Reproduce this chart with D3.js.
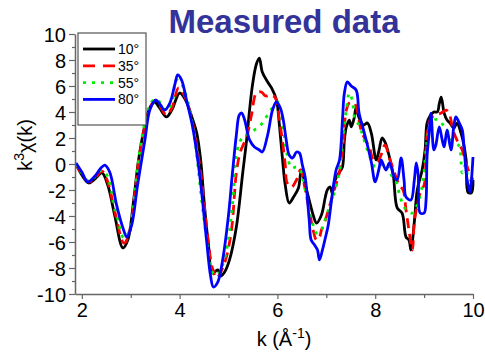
<!DOCTYPE html>
<html>
<head>
<meta charset="utf-8">
<script src="https://cdn.jsdelivr.net/npm/d3@7"></script>
<style>
  html, body { margin: 0; padding: 0; background: #fff; }
  svg { display: block; font-family: "Liberation Sans", Arial, sans-serif; }
</style>
</head>
<body>
<svg id="chart" width="485" height="356"></svg>
<script>
// EXAFS k^3-weighted chi(k) for four incidence angles: [k (1/Å), k^3 chi(k)]
const series10 = [[1.88,0],[2.00,-0.85],[2.14,-1.46],[2.27,-1.15],[2.41,-0.69],[2.53,-1.62],[2.67,-3.92],[2.84,-6.46],[2.94,-5.85],[3.06,-2.77],[3.16,0.31],[3.29,3.0],[3.39,4.31],[3.49,4.77],[3.59,4.31],[3.73,3.62],[3.84,4.15],[4.00,5.46],[4.12,4.92],[4.27,3.38],[4.35,2.38],[4.43,0.31],[4.51,-3.31],[4.59,-6.23],[4.67,-8.38],[4.78,-8.15],[4.84,-8.62],[4.92,-8.31],[5.02,-7.38],[5.16,-4.85],[5.29,-0.69],[5.37,1.85],[5.43,4.15],[5.49,6.08],[5.57,7.69],[5.63,8.15],[5.69,7.08],[5.80,6.31],[5.88,5.85],[5.98,4.92],[6.04,3.0],[6.10,0.54],[6.16,-1.62],[6.24,-3.0],[6.33,-2.54],[6.43,-1.85],[6.49,-0.46],[6.57,-1.62],[6.65,-2.77],[6.73,-3.92],[6.80,-4.54],[6.90,-3.92],[6.98,-2.54],[7.02,-2.0],[7.08,-1.77],[7.12,-2.23],[7.18,-1.23],[7.27,-0.62],[7.33,-0.23],[7.37,1.85],[7.41,2.85],[7.47,3.38],[7.51,2.85],[7.57,3.54],[7.61,4.38],[7.67,3.54],[7.76,3.0],[7.84,3.15],[7.92,2.38],[8.02,0.31],[8.08,1.08],[8.14,2.0],[8.20,1.69],[8.29,0.54],[8.37,-0.85],[8.45,-3.38],[8.55,-3.77],[8.63,-5.62],[8.69,-5.85],[8.73,-6.62],[8.80,-4.46],[8.86,-2.0],[8.96,-0.46],[9.02,1.08],[9.06,3.15],[9.12,3.69],[9.20,4.0],[9.27,4.0],[9.31,4.62],[9.35,5.15],[9.41,3.92],[9.47,3.38],[9.53,3.15],[9.61,2.77],[9.67,3.15],[9.76,2.31],[9.86,0.31],[9.90,-2.2],[9.97,-2.2],[10.0,-1.23]];

const series35 = [[1.88,0],[2.00,-0.77],[2.14,-1.38],[2.27,-1.08],[2.41,-0.54],[2.53,-1.38],[2.69,-3.92],[2.86,-6.08],[2.96,-5.46],[3.08,-2.38],[3.18,0.69],[3.31,3.23],[3.41,4.46],[3.51,4.92],[3.61,4.38],[3.73,3.77],[3.84,4.31],[3.98,5.85],[4.10,5.23],[4.24,3.54],[4.41,-0.08],[4.57,-5.46],[4.67,-8.0],[4.76,-8.77],[4.84,-8.31],[4.94,-7.38],[5.06,-5.08],[5.16,-0.69],[5.24,0.92],[5.37,2.08],[5.47,3.77],[5.57,5.46],[5.67,5.54],[5.76,5.23],[5.84,5.31],[5.92,5.23],[5.98,4.92],[6.04,3.38],[6.10,1.85],[6.16,-0.08],[6.20,-1.46],[6.29,-1.77],[6.39,-1.23],[6.47,-0.46],[6.55,-1.62],[6.65,-3.54],[6.73,-5.08],[6.80,-5.85],[6.86,-5.62],[6.90,-5.08],[6.98,-4.31],[7.06,-3.31],[7.16,-2.0],[7.27,-0.62],[7.33,1.08],[7.41,4.15],[7.47,4.69],[7.57,4.69],[7.63,4.15],[7.71,2.62],[7.80,1.85],[7.88,1.31],[7.96,0.31],[8.04,0.15],[8.12,0.69],[8.20,1.46],[8.29,0.46],[8.39,-0.62],[8.49,-1.62],[8.57,-2.0],[8.63,-3.54],[8.69,-5.08],[8.76,-6.62],[8.80,-4.46],[8.86,-3.15],[8.94,-2.0],[9.00,-1.62],[9.06,2.23],[9.14,3.54],[9.24,3.77],[9.35,3.92],[9.45,4.15],[9.51,3.92],[9.59,2.62],[9.67,1.85],[9.78,1.08],[9.84,0.31],[9.92,-0.62],[10.0,-1.23]];

const series55 = [[1.88,0],[2.00,-0.69],[2.14,-1.31],[2.27,-1.0],[2.41,-0.46],[2.51,-0.85],[2.69,-3.54],[2.86,-5.69],[2.96,-5.23],[3.08,-2.38],[3.18,0.92],[3.31,3.54],[3.41,4.69],[3.51,5.0],[3.61,4.69],[3.73,4.08],[3.84,4.69],[3.94,6.46],[4.04,6.15],[4.16,4.92],[4.31,1.85],[4.45,-2.77],[4.57,-6.23],[4.67,-8.31],[4.78,-8.54],[4.88,-7.77],[4.98,-6.23],[5.08,-3.15],[5.18,1.08],[5.29,2.08],[5.43,2.38],[5.53,2.62],[5.63,2.85],[5.73,3.38],[5.84,4.0],[5.94,4.54],[6.02,4.77],[6.08,3.77],[6.14,2.23],[6.20,0.69],[6.29,-0.31],[6.39,-0.23],[6.47,-0.46],[6.57,-2.0],[6.65,-3.54],[6.73,-4.69],[6.80,-5.31],[6.88,-5.23],[6.94,-4.69],[7.06,-3.31],[7.18,-2.0],[7.27,-0.46],[7.33,1.62],[7.41,4.15],[7.47,5.46],[7.53,4.92],[7.59,3.38],[7.67,3.0],[7.76,2.0],[7.84,1.08],[7.92,0.31],[8.00,-0.23],[8.12,-0.08],[8.22,0.08],[8.33,-0.85],[8.43,-1.38],[8.49,-2.23],[8.59,-3.31],[8.69,-3.69],[8.76,-3.77],[8.84,-3.31],[8.92,-2.38],[8.98,-1.23],[9.04,1.08],[9.10,2.62],[9.20,3.38],[9.31,3.38],[9.39,3.0],[9.47,2.62],[9.57,1.85],[9.67,1.62],[9.73,1.23],[9.78,-0.69],[9.84,-0.08],[9.92,-1.23],[10.0,-1.23]];

const series80 = [[1.88,0.08],[2.00,-0.62],[2.12,-1.38],[2.27,-0.92],[2.39,-0.31],[2.47,-0.08],[2.57,-0.62],[2.71,-3.15],[2.84,-4.92],[2.92,-5.62],[3.02,-4.69],[3.14,-1.62],[3.29,1.85],[3.39,4.15],[3.51,4.92],[3.61,4.54],[3.69,4.15],[3.80,4.69],[3.90,6.08],[3.96,6.85],[4.04,6.46],[4.14,4.92],[4.27,2.77],[4.41,-0.85],[4.55,-5.85],[4.63,-8.54],[4.69,-9.46],[4.78,-9.08],[4.88,-7.38],[5.00,-3.92],[5.08,-0.69],[5.16,2.23],[5.22,3.77],[5.27,3.92],[5.33,3.38],[5.43,1.85],[5.53,1.31],[5.63,1.08],[5.69,0.92],[5.80,2.23],[5.90,4.15],[5.98,4.77],[6.06,4.31],[6.12,3.38],[6.18,1.85],[6.24,0.69],[6.31,0.46],[6.39,0.92],[6.45,0.85],[6.51,-0.08],[6.57,-1.08],[6.65,-4.31],[6.69,-5.85],[6.76,-6.23],[6.82,-6.62],[6.86,-7.38],[6.92,-6.62],[6.98,-5.69],[7.04,-4.69],[7.12,-2.38],[7.20,-0.46],[7.27,0.31],[7.33,3.38],[7.37,5.46],[7.43,6.31],[7.51,6.0],[7.61,5.69],[7.67,3.92],[7.76,2.62],[7.84,1.46],[7.92,0.15],[8.00,-1.38],[8.08,-0.31],[8.12,0.31],[8.22,-0.46],[8.29,0.08],[8.39,-1.0],[8.45,-1.23],[8.53,0.46],[8.59,-1.23],[8.63,-2.54],[8.73,-2.77],[8.80,-1.23],[8.84,0.08],[8.88,-0.85],[8.92,-3.77],[9.00,-3.77],[9.04,-2.77],[9.06,0.54],[9.10,2.23],[9.14,3.9],[9.20,1.08],[9.24,1.46],[9.31,2.85],[9.37,1.85],[9.41,1.31],[9.47,2.62],[9.55,1.08],[9.61,3.0],[9.65,3.62],[9.71,3.23],[9.78,2.62],[9.82,1.08],[9.88,-1.23],[9.94,-2.15],[9.96,-1.62],[10.0,0.54]];

const angleLabels = ["10°", "35°", "55°", "80°"];
const allSeries = [series10, series35, series55, series80];
const lineColors = ["#000000", "#ff0000", "#00ee00", "#0000ff"];
const lineDashes = [null, "10,6", "3,6", null];

const xMajorTicks = [2, 4, 6, 8, 10];
const xMinorTicks = [3, 5, 7, 9];
const yMajorTicks = [-10, -8, -6, -4, -2, 0, 2, 4, 6, 8, 10];
const yMinorTicks = [-9, -7, -5, -3, -1, 1, 3, 5, 7, 9];

const svg = d3.select("#chart");
const axisColor = "#666";
const plainNumber = d => String(d);   // ASCII hyphen for negatives

const x = d3.scaleLinear().domain([1.86, 10]).range([75, 473]);
const y = d3.scaleLinear().domain([-10, 10]).range([294, 34]);

// Title
svg.append("text")
  .attr("x", 284).attr("y", 33)
  .attr("text-anchor", "middle")
  .attr("font-size", 33).attr("font-weight", "bold")
  .attr("fill", "#333399")
  .text("Measured data");

// Curves
const line = d3.line()
  .x(d => x(d[0])).y(d => y(d[1]))
  .curve(d3.curveCatmullRom.alpha(0.5));

allSeries.forEach((s, i) => {
  svg.append("path")
    .datum(s)
    .attr("d", line)
    .attr("fill", "none")
    .attr("stroke", lineColors[i])
    .attr("stroke-width", 2.8)
    .attr("stroke-linejoin", "round")
    .attr("stroke-dasharray", lineDashes[i]);
});

// Axes
function styleAxis(g) {
  g.select(".domain").attr("stroke", axisColor).attr("stroke-width", 1.5);
  g.selectAll(".tick line").attr("stroke", axisColor).attr("stroke-width", 1.2);
  g.selectAll(".tick text").attr("fill", "#000")
    .attr("font-family", "\"Liberation Sans\", Arial, sans-serif")
    .attr("font-size", 20);
}

const yAxisG = svg.append("g").attr("transform", "translate(75,0)")
  .call(d3.axisLeft(y).tickValues(yMajorTicks).tickFormat(plainNumber)
    .tickSize(6).tickSizeOuter(0).tickPadding(3));
styleAxis(yAxisG);
yAxisG.selectAll(".tick text").attr("dy", "0.35em");

const yMinorG = svg.append("g").attr("transform", "translate(75,0)")
  .call(d3.axisLeft(y).tickValues(yMinorTicks).tickSize(3).tickFormat(""));
yMinorG.select(".domain").remove();
yMinorG.selectAll(".tick line").attr("stroke", axisColor).attr("stroke-width", 1.2);

const xAxisG = svg.append("g").attr("transform", "translate(0,294)")
  .call(d3.axisBottom(x).tickValues(xMajorTicks).tickFormat(plainNumber)
    .tickSize(5).tickSizeOuter(0).tickPadding(4));
styleAxis(xAxisG);

const xMinorG = svg.append("g").attr("transform", "translate(0,294)")
  .call(d3.axisBottom(x).tickValues(xMinorTicks).tickSize(4).tickFormat(""));
xMinorG.select(".domain").remove();
xMinorG.selectAll(".tick line").attr("stroke", axisColor).attr("stroke-width", 1.2);

// Axis titles
const xTitle = svg.append("text")
  .attr("x", 284).attr("y", 346)
  .attr("text-anchor", "middle")
  .attr("font-size", 20).attr("fill", "#000");
xTitle.append("tspan").text("k (Å");
xTitle.append("tspan").attr("dy", -8).attr("font-size", 14).text("-1");
xTitle.append("tspan").attr("dy", 8).text(")");

const yTitle = svg.append("text")
  .attr("transform", "translate(32,145) rotate(-90)")
  .attr("text-anchor", "middle")
  .attr("font-size", 20).attr("fill", "#000");
yTitle.append("tspan").text("k");
yTitle.append("tspan").attr("dy", -8).attr("font-size", 14).text("3");
yTitle.append("tspan").attr("dy", 8).text("χ(k)");

// Legend
const legend = svg.append("g");
legend.append("rect")
  .attr("x", 78).attr("y", 33).attr("width", 68).attr("height", 92)
  .attr("fill", "#fff").attr("stroke", "#555").attr("stroke-width", 1.2);

angleLabels.forEach((label, i) => {
  const ly = 49 + i * 16.8;
  legend.append("line")
    .attr("x1", 83).attr("x2", 115).attr("y1", ly).attr("y2", ly)
    .attr("stroke", lineColors[i]).attr("stroke-width", 2.8)
    .attr("stroke-dasharray", i === 1 ? "12,8" : lineDashes[i]);
  legend.append("text")
    .attr("x", 118).attr("y", ly + 5)
    .attr("font-size", 14).attr("fill", "#000")
    .text(label);
});
</script>
</body>
</html>
